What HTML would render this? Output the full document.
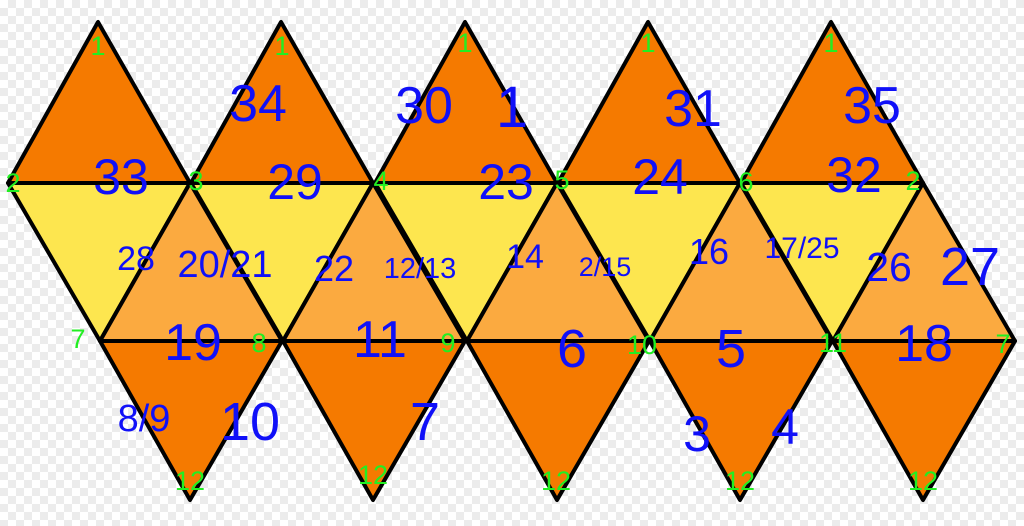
<!DOCTYPE html>
<html><head><meta charset="utf-8"><style>
html,body{margin:0;padding:0;width:1024px;height:526px;overflow:hidden}
body{background-color:#fff;background-image:linear-gradient(45deg,#ececec 25%,transparent 25%,transparent 75%,#ececec 75%),linear-gradient(45deg,#ececec 25%,transparent 25%,transparent 75%,#ececec 75%);background-size:16px 16px;background-position:0 0,8px 8px}
svg{position:absolute;left:0;top:0}
text{font-family:"Liberation Sans",sans-serif}
</style></head><body>
<svg id="net" width="1024" height="526" viewBox="0 0 1024 526"></svg>
<script>
const NS='http://www.w3.org/2000/svg';
const svg=document.getElementById('net');
const topApexX=[98,281,465,648,831];
const blue=[
['34',258,121,52],['30',424,123,52],['1',512,127,58],['31',693,126,52],['35',872,123,52],
['33',121,194,50],['29',295,199,50],['23',506,199,50],['24',660,194,50],['32',854,192,50],
['28',136,270,34],['20/21',225,277,38],['22',334,281,36],['12/13',420,278,29],['14',525,268,34],['2/15',605,276,27],['16',709,264,36],['17/25',802,258,30],['26',889,281,41],['27',970,285,54],
['19',193,360,52],['11',380,357,52],['6',572,367,54],['5',731,367,54],['18',924,361,52],
['8/9',144,431,38],['10',250,440,54],['7',425,440,54],['3',697,451,50],['4',785,444,50]];
const green=[
['1',98,55],['1',282,55],['1',465,52],['1',648,52],['1',831,52],
['2',13,192],['3',196,190],['4',381,190],['5',562,189],['6',746,191],['2',913,190],
['7',78,348],['8',259,352],['9',448,352],['10',642,354],['11',833,352],['7',1003,353],
['12',190,490],['12',373,484],['12',556,490],['12',740,490],['12',923,490]];
function poly(pts,fill,name){
 const p=document.createElementNS(NS,'polygon');
 p.setAttribute('points',pts.map(q=>q.join(',')).join(' '));
 p.setAttribute('fill',fill);p.setAttribute('stroke','#000');p.setAttribute('stroke-width','4');p.setAttribute('stroke-linejoin','round');
 
 
 svg.appendChild(p);
}
for(let k=0;k<5;k++){
 const a=topApexX[k];
 poly([[a,22],[a-90,183],[a+92,183]],'#f57a00','top-face');
 poly([[a-90,183],[a+92,183],[a+2,341]],'#fde64f','middle-yellow-face');
 poly([[a+92,183],[a+2,341],[a+184,341]],'#fbaa40','middle-orange-face');
 poly([[a+2,341],[a+184,341],[a+92,500]],'#f57a00','bottom-face');
}
function txt(s,x,y,size,fill,name){
 const t=document.createElementNS(NS,'text');
 t.setAttribute('x',x);t.setAttribute('y',y);t.setAttribute('font-size',size);t.setAttribute('fill',fill);t.setAttribute('text-anchor','middle');
 t.textContent=s;
 
 
 svg.appendChild(t);
}
blue.forEach(b=>txt(b[0],b[1],b[2],b[3],'#1010f8','face-number'));
green.forEach(g=>txt(g[0],g[1],g[2],27,'#22ee22','vertex-label'));
</script>
</body></html>
